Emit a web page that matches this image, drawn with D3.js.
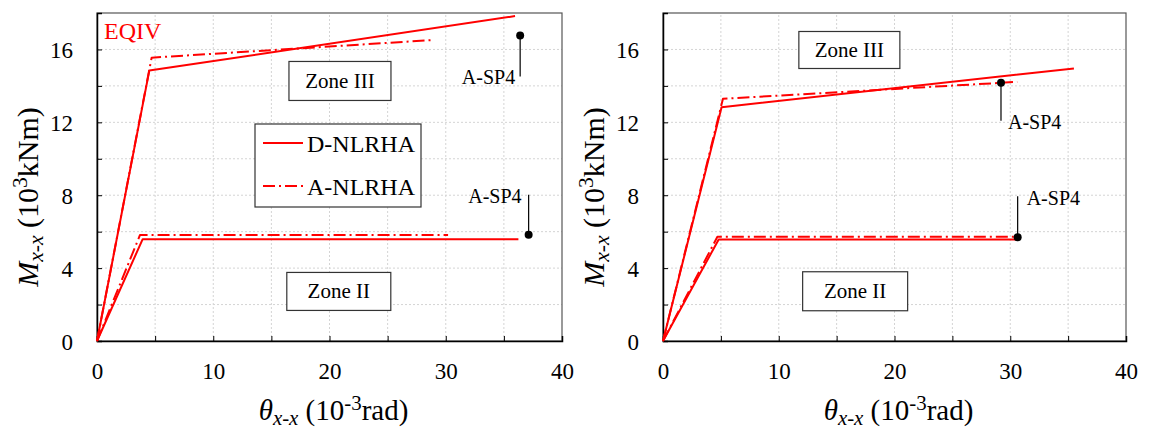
<!DOCTYPE html>
<html>
<head>
<meta charset="utf-8">
<script src="https://cdn.jsdelivr.net/npm/d3@7"></script>
<style>
  body { margin: 0; background: #fff; }
  svg { display: block; }
  text { font-family: "Liberation Serif", "Tinos", "Times New Roman", "Nimbus Roman", "DejaVu Serif", serif; fill: #000; }
</style>
</head>
<body>
<svg id="chart" width="1152" height="429"></svg>
<script>
// Axis ticks (10^-3 rad and 10^3 kNm)
const thetaTicks = [0, 10, 20, 30, 40];
const momentTicks = [0, 4, 8, 12, 16];
const thetaGrid = [5, 10, 15, 20, 25, 30, 35];
const momentGrid = [2, 4, 6, 8, 10, 12, 14, 16];
const seriesNames = ["D-NLRHA", "A-NLRHA"];

// EQIV: moment-rotation backbones [theta, moment]
const eqivZone3D = [[0, 0], [4.5, 14.84], [35.96, 17.83]];
const eqivZone3A = [[0, 0], [4.7, 15.55], [28.8, 16.51]];
const eqivZone2D = [[0, 0], [3.93, 5.59], [36.25, 5.59]];
const eqivZone2A = [[0, 0], [3.7, 5.82], [30.2, 5.82]];
const eqivSP4 = [[36.4, 16.77], [37.13, 5.83]];

// Second record
const recBZone3D = [[0, 0], [5.06, 12.83], [35.5, 14.96]];
const recBZone3A = [[0, 0], [5.18, 13.29], [30.6, 14.22]];
const recBZone2D = [[0, 0], [4.81, 5.57], [30.6, 5.57]];
const recBZone2A = [[0, 0], [4.7, 5.72], [30.6, 5.72]];
const recBSP4 = [[29.2, 14.17], [30.64, 5.70]];

const RED = "#ff0000";
const DASHDOT = "12,4,2,4";
const svg = d3.select("#chart");

// Write a label made of styled runs (italic, subscript, superscript)
function richText(sel, parts, size) {
  let shift = 0;
  parts.forEach(p => {
    const fs = p.sub || p.sup ? size * 0.72 : size;
    const target = p.sub ? size * 0.18 : p.sup ? -size * 0.36 : 0;
    sel.append("tspan")
      .attr("dy", target - shift)
      .attr("font-size", fs)
      .attr("font-style", p.italic ? "italic" : "normal")
      .text(p.t);
    shift = target;
  });
}

function drawPanel(cfg) {
  const x = d3.scaleLinear().domain([0, 40]).range([cfg.left, cfg.right]);
  const y = d3.scaleLinear().domain([0, 18]).range([341, 13]);
  const g = svg.append("g");

  // dotted grid
  g.append("g").selectAll("line").data(thetaGrid).join("line")
    .attr("x1", d => x(d)).attr("x2", d => x(d))
    .attr("y1", y(0)).attr("y2", y(18))
    .attr("stroke", "#d4d4d4").attr("stroke-width", 1).attr("stroke-dasharray", "2,2");
  g.append("g").selectAll("line").data(momentGrid).join("line")
    .attr("x1", x(0)).attr("x2", x(40))
    .attr("y1", d => y(d)).attr("y2", d => y(d))
    .attr("stroke", "#d4d4d4").attr("stroke-width", 1).attr("stroke-dasharray", "2,2");

  // frame
  g.append("rect")
    .attr("x", x(0)).attr("y", y(18))
    .attr("width", x(40) - x(0)).attr("height", y(0) - y(18))
    .attr("fill", "none").attr("stroke", "#555").attr("stroke-width", 1.2);

  // axes with inward ticks
  const xAxis = d3.axisBottom(x).tickValues(d3.range(0, 41, 5)).tickSize(-5)
    .tickFormat(d => thetaTicks.includes(d) ? d : "");
  const gx = g.append("g").attr("transform", `translate(0,${y(0)})`).call(xAxis)
    .attr("font-family", null);
  gx.select(".domain").attr("stroke", "#000").attr("stroke-width", 1.5);
  gx.selectAll(".tick line").attr("stroke", "#000");
  gx.selectAll(".tick text").attr("font-size", 23)
    .attr("y", 22).attr("dy", "0.71em");

  const yAxis = d3.axisLeft(y).tickValues(d3.range(0, 17, 2)).tickSize(-5)
    .tickFormat(d => momentTicks.includes(d) ? d : "");
  const gy = g.append("g").attr("transform", `translate(${x(0)},0)`).call(yAxis)
    .attr("font-family", null);
  gy.select(".domain").attr("stroke", "#000").attr("stroke-width", 1.5);
  gy.selectAll(".tick line").attr("stroke", "#000");
  gy.selectAll(".tick text").attr("font-size", 23)
    .attr("x", -24).attr("dy", "0.35em");

  // axis titles
  const xt = g.append("text").attr("x", (x(0) + x(40)) / 2 + 4).attr("y", 420)
    .attr("text-anchor", "middle");
  richText(xt, [
    { t: "\u03b8", italic: true }, { t: "x-x", italic: true, sub: true },
    { t: " (10" }, { t: "-3", sup: true }, { t: "rad)" }
  ], 29);

  const yt = g.append("text")
    .attr("transform", `translate(${cfg.left - 59},197) rotate(-90)`)
    .attr("text-anchor", "middle");
  richText(yt, [
    { t: "M", italic: true }, { t: "x-x", italic: true, sub: true },
    { t: " (10" }, { t: "3", sup: true }, { t: "kNm)" }
  ], 30);

  // backbone curves
  const line = d3.line().x(d => x(d[0])).y(d => y(d[1]));
  const curves = [
    { d: cfg.zone3D, dash: null }, { d: cfg.zone3A, dash: DASHDOT },
    { d: cfg.zone2D, dash: null }, { d: cfg.zone2A, dash: DASHDOT }
  ];
  g.append("g").selectAll("path").data(curves).join("path")
    .attr("d", c => line(c.d))
    .attr("fill", "none").attr("stroke", RED).attr("stroke-width", 2)
    .attr("stroke-linejoin", "round")
    .attr("stroke-dasharray", c => c.dash);

  // zone labels
  cfg.zones.forEach(z => {
    const cx = x(z.x), cy = y(z.y);
    g.append("rect").attr("x", cx - z.w / 2).attr("y", cy - z.h / 2)
      .attr("width", z.w).attr("height", z.h)
      .attr("fill", "#fff").attr("stroke", "#333").attr("stroke-width", 1.2);
    g.append("text").attr("x", cx).attr("y", cy + 7).attr("text-anchor", "middle")
      .attr("font-size", 21).text(z.label);
  });

  // A-SP4 points with leader lines
  cfg.sp4.forEach((p, i) => {
    const a = cfg.sp4Anno[i];
    const px = x(p[0]), py = y(p[1]);
    g.append("line").attr("x1", px).attr("x2", px).attr("y1", py).attr("y2", py + a.lead)
      .attr("stroke", "#000").attr("stroke-width", 1.2);
    g.append("circle").attr("cx", px).attr("cy", py).attr("r", 4).attr("fill", "#000");
    g.append("text").attr("x", px + a.dx).attr("y", py + a.dy)
      .attr("text-anchor", a.anchor).attr("font-size", 20).text("A-SP4");
  });

  return { g, x, y };
}

const left = drawPanel({
  left: 97, right: 562,
  zone3D: eqivZone3D, zone3A: eqivZone3A, zone2D: eqivZone2D, zone2A: eqivZone2A,
  sp4: eqivSP4,
  sp4Anno: [
    { lead: 41, dx: -5, dy: 49, anchor: "end" },
    { lead: -40, dx: -7, dy: -32, anchor: "end" }
  ],
  zones: [
    { label: "Zone III", x: 20.9, y: 14.27, w: 102, h: 39 },
    { label: "Zone II", x: 20.8, y: 2.72, w: 104, h: 38 }
  ]
});

const right = drawPanel({
  left: 663, right: 1126,
  zone3D: recBZone3D, zone3A: recBZone3A, zone2D: recBZone2D, zone2A: recBZone2A,
  sp4: recBSP4,
  sp4Anno: [
    { lead: 38, dx: 7, dy: 46, anchor: "start" },
    { lead: -41, dx: 9, dy: -32, anchor: "start" }
  ],
  zones: [
    { label: "Zone III", x: 16.1, y: 15.97, w: 101, h: 37 },
    { label: "Zone II", x: 16.6, y: 2.73, w: 105, h: 39 }
  ]
});

// record label
left.g.append("text").attr("x", 104).attr("y", 39)
  .attr("font-size", 24).style("fill", RED).text("EQIV");

// legend
const lg = left.g.append("g");
lg.append("rect").attr("x", 255).attr("y", 124).attr("width", 166).attr("height", 83)
  .attr("fill", "#fff").attr("stroke", "#333").attr("stroke-width", 1.2);
seriesNames.forEach((name, i) => {
  const yy = 143 + i * 43;
  lg.append("line").attr("x1", 263).attr("x2", 303).attr("y1", yy).attr("y2", yy)
    .attr("stroke", RED).attr("stroke-width", 2)
    .attr("stroke-dasharray", i === 1 ? DASHDOT : null);
  lg.append("text").attr("x", 307).attr("y", yy + 9).attr("font-size", 24).text(name);
});
</script>
</body>
</html>
